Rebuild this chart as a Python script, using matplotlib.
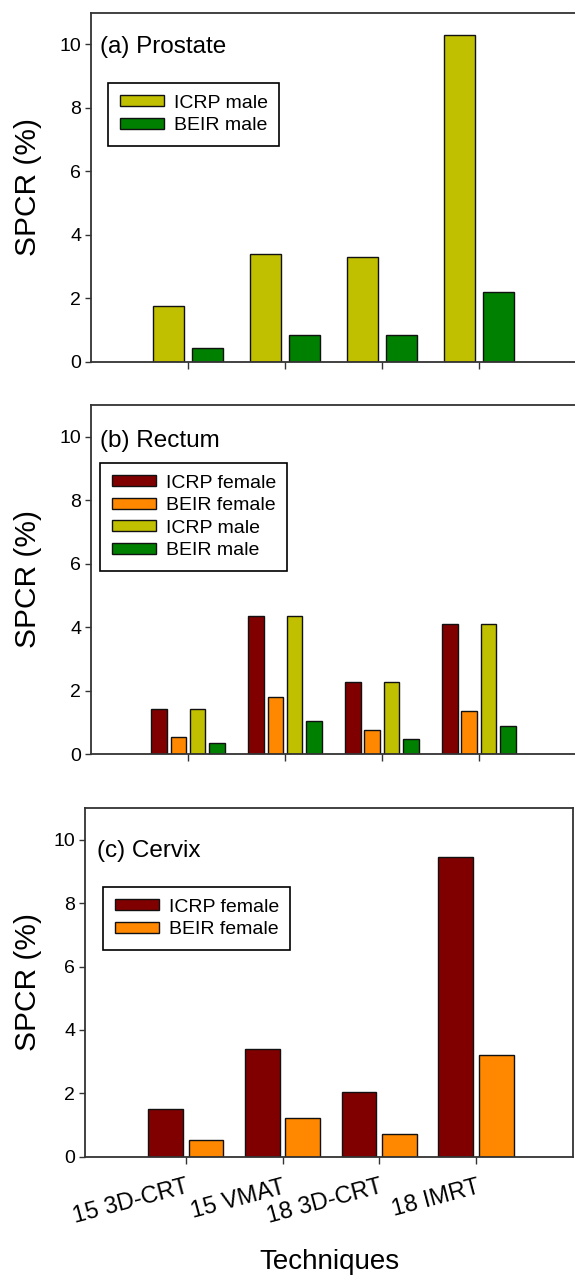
import numpy as np
import matplotlib
matplotlib.use("Agg")
import matplotlib.pyplot as plt

plt.rcParams["font.family"] = ["Liberation Sans", "DejaVu Sans"]

# --- data --------------------------------------------------------------------------
techniques = ["15 3D-CRT", "15 VMAT", "18 3D-CRT", "18 IMRT"]

prostate_icrp_male = [1.74, 3.38, 3.31, 10.3]
prostate_beir_male = [0.44, 0.84, 0.84, 2.20]

rectum_icrp_female = [1.42, 4.35, 2.27, 4.09]
rectum_beir_female = [0.55, 1.79, 0.75, 1.37]
rectum_icrp_male = [1.42, 4.35, 2.27, 4.09]
rectum_beir_male = [0.35, 1.05, 0.46, 0.87]

cervix_icrp_female = [1.50, 3.39, 2.04, 9.46]
cervix_beir_female = [0.53, 1.23, 0.71, 3.22]

C_ICRP_F = "#800000"
C_BEIR_F = "#FF8800"
C_ICRP_M = "#C0C000"
C_BEIR_M = "#008000"

W, H = 575, 1275
fig = plt.figure(figsize=(W / 100, H / 100), dpi=100)


def px_axes(left, top, right, bottom):
    ax = fig.add_axes([left / W, 1 - bottom / H, (right - left) / W, (bottom - top) / H])
    ax._px = (left, right)
    return ax


def style(ax, xlim):
    ax.set_xlim(*xlim)
    ax.set_ylim(0, 11)
    ax.set_yticks(np.arange(0, 11, 2))
    ax.set_xticks(np.arange(1, 5))
    for s in ax.spines.values():
        s.set_color("#333333")
        s.set_linewidth(1.3)
    ax.tick_params(axis="both", direction="out", length=4, width=1, color="#333333",
                   labelsize=14, pad=3)
    ax.tick_params(axis="x", length=5)
    ax.set_ylabel("SPCR (%)", fontsize=21.5)
    # y label right edge sits ~42 px from the figure's left edge
    left, right = ax._px
    ax.yaxis.set_label_coords((42 - left) / (right - left), 0.5)


def legend(ax, x, y):
    leg = ax.legend(loc="upper left", bbox_to_anchor=(x / W, 1 - y / H),
                    bbox_transform=fig.transFigure, fontsize=14, frameon=True, fancybox=False,
                    edgecolor="black", framealpha=1, borderaxespad=0, borderpad=0.6,
                    handlelength=2.27, handleheight=0.5, handletextpad=0.5, labelspacing=0.28)
    leg.get_frame().set_linewidth(1.2)


x = np.arange(1, 5)
bar_kw = dict(edgecolor="#111111", linewidth=1)

# (a) Prostate
ax1 = px_axes(91, 12.7, 605, 361.7)
ax1.bar(x - 0.2, prostate_icrp_male, 0.32, color=C_ICRP_M, label="ICRP male", **bar_kw)
ax1.bar(x + 0.2, prostate_beir_male, 0.32, color=C_BEIR_M, label="BEIR male", **bar_kw)
style(ax1, (0, 5.3))
ax1.set_xticklabels([])
fig.text(100 / W, 1 - 47 / H, "(a) Prostate", fontsize=17.5, va="center")
legend(ax1, 108, 83)

# (b) Rectum
ax2 = px_axes(91, 405, 605, 754)
ax2.bar(x - 0.3, rectum_icrp_female, 0.16, color=C_ICRP_F, label="ICRP female", **bar_kw)
ax2.bar(x - 0.1, rectum_beir_female, 0.16, color=C_BEIR_F, label="BEIR female", **bar_kw)
ax2.bar(x + 0.1, rectum_icrp_male, 0.16, color=C_ICRP_M, label="ICRP male", **bar_kw)
ax2.bar(x + 0.3, rectum_beir_male, 0.16, color=C_BEIR_M, label="BEIR male", **bar_kw)
style(ax2, (0, 5.3))
ax2.set_xticklabels([])
fig.text(100 / W, 1 - 441 / H, "(b) Rectum", fontsize=17.5, va="center")
legend(ax2, 100, 463)

# (c) Cervix
ax3 = px_axes(85, 808, 573, 1156.7)
ax3.bar(x - 0.21, cervix_icrp_female, 0.36, color=C_ICRP_F, label="ICRP female", **bar_kw)
ax3.bar(x + 0.21, cervix_beir_female, 0.36, color=C_BEIR_F, label="BEIR female", **bar_kw)
style(ax3, (-0.04, 5.0))
ax3.set_xticklabels(techniques, rotation=15, ha="right", rotation_mode="anchor", fontsize=17)
ax3.tick_params(axis="x", pad=9)
fig.text(97 / W, 1 - 851 / H, "(c) Cervix", fontsize=17.5, va="center")
legend(ax3, 103, 887)
fig.text(329 / W, 1 - 1269 / H, "Techniques", fontsize=20, ha="center", va="baseline")

fig.savefig("out.png", dpi=100)
